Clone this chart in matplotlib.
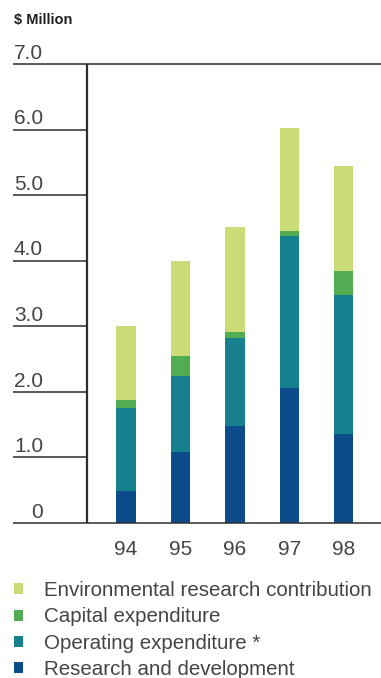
import matplotlib
matplotlib.use("Agg")
import matplotlib.pyplot as plt
import matplotlib.transforms as mtransforms

years = ["94", "95", "96", "97", "98"]
research_dev = [0.49, 1.08, 1.48, 2.06, 1.36]
operating = [1.26, 1.16, 1.34, 2.31, 2.12]
capital = [0.13, 0.31, 0.09, 0.08, 0.36]
env_research = [1.12, 1.44, 1.60, 1.58, 1.60]
y_ticks = [0, 1, 2, 3, 4, 5, 6, 7]
y_tick_labels = ["0", "1.0", "2.0", "3.0", "4.0", "5.0", "6.0", "7.0"]

series = [
    ("Research and development", research_dev, "#0c4c8b"),
    ("Operating expenditure *", operating, "#17808f"),
    ("Capital expenditure", capital, "#52ad52"),
    ("Environmental research contribution", env_research, "#c9dc78"),
]

plt.rcParams['font.family'] = ['Liberation Sans', 'DejaVu Sans']
text_color = "#444444"
line_color = "#2e2e2e"

fig = plt.figure(figsize=(3.81, 6.78), dpi=100)
ax = fig.add_axes([87 / 381, 1 - 523 / 678, 1 - 87 / 381, (523 - 64) / 678])

x = list(range(len(years)))
bottom = [0.0] * len(years)
handles = []
for label, vals, color in series:
    b = ax.bar(x, vals, width=0.35, bottom=bottom, color=color, label=label, linewidth=0)
    handles.append(b)
    bottom = [bt + v for bt, v in zip(bottom, vals)]

ax.set_xlim(-0.716, 4.68)
ax.set_ylim(0, 7)
for s in ax.spines.values():
    s.set_visible(False)
ax.set_xticks([])
ax.set_yticks([])

trans = mtransforms.blended_transform_factory(ax.transAxes, ax.transData)

# left axis line
ax.plot([0, 0], [0, 7], transform=trans, color=line_color, lw=1.6, clip_on=False,
        solid_capstyle='butt')

# gridline stubs under the labels, full width at 0 and 7
left_edge = -(87 - 13) / 294
for t, lab in zip(y_ticks, y_tick_labels):
    x_end = 1.0 if t in (0, 7) else 0.0
    ax.plot([left_edge, x_end], [t, t], transform=trans, color=line_color, lw=1.1,
            clip_on=False, solid_capstyle='butt')
    ax.text(-(87 - 43) / 294, t + 0.08, lab, transform=trans, ha='right', va='baseline',
            fontsize=15, color=text_color)

# year labels
for xi, yr in zip(x, years):
    ax.text(xi, -0.40, yr, ha='center', va='center', fontsize=15, color=text_color)

fig.text(14 / 381, 1 - 20 / 678, "$ Million", fontsize=10.5, fontweight='bold',
         color="#222222", ha='left', va='center')

leg = fig.legend(handles[::-1], [s[0] for s in series[::-1]], loc='upper left',
                 bbox_to_anchor=(14 / 381, 1 - 581 / 678), frameon=False, fontsize=14.8,
                 handlelength=0.45, handleheight=0.45, handletextpad=1.0,
                 labelspacing=0.36, borderaxespad=0, borderpad=0)
for t in leg.get_texts():
    t.set_color(text_color)

fig.savefig("out.png", dpi=100)
